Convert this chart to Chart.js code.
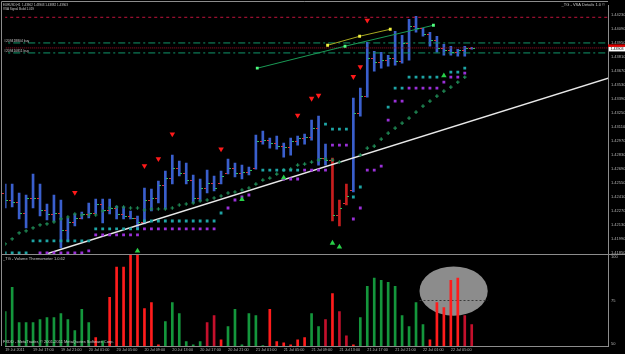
<!DOCTYPE html>
<html>
<head>
<meta charset="utf-8">
<script src="https://cdn.jsdelivr.net/npm/chart.js@4.4.1/dist/chart.umd.min.js"></script>
<style>
  html, body { margin: 0; padding: 0; background: #000; }
  #wrap { width: 625px; height: 354px; }
</style>
</head>
<body>
<div id="wrap"><canvas id="mt4Chart"></canvas></div>
<script>
// EURUSD H1, 19 Jul 13:00 -> 22 Jul 08:00 (one entry per bar)
const tickBars = [0, 4, 8, 12, 16, 20, 24, 28, 32, 36, 40, 44, 48, 52, 56, 60, 64];
const tickLabels = ['19 Jul 2011', '19 Jul 17:00', '19 Jul 21:00', '20 Jul 01:00', '20 Jul 05:00',
  '20 Jul 09:00', '20 Jul 13:00', '20 Jul 17:00', '20 Jul 21:00', '21 Jul 01:00', '21 Jul 05:00',
  '21 Jul 09:00', '21 Jul 13:00', '21 Jul 17:00', '21 Jul 21:00', '22 Jul 01:00', '22 Jul 05:00'];
const priceTicks = [1.41850, 1.41990, 1.42130, 1.42270, 1.42410, 1.42550, 1.42690, 1.42830, 1.42970,
  1.43110, 1.43250, 1.43390, 1.43530, 1.43670, 1.43810, 1.43950, 1.44090, 1.44230];
const volumeTicks = [50, 75, 100];

const opens = [1.4245,1.4238,1.4236,1.4225,1.4240,1.4240,1.4228,1.4224,1.4225,1.4208,
  1.4216,1.4220,1.4224,1.4225,1.4234,1.4228,1.4230,1.4224,1.4222,1.4220,
  1.4216,1.4238,1.4240,1.4253,1.4260,1.4270,1.4265,1.4258,1.4240,1.4250,
  1.4255,1.4255,1.4265,1.4270,1.4265,1.4266,1.4270,1.4297,1.4298,1.4295,
  1.4292,1.4291,1.4297,1.4300,1.4301,1.4310,1.4280,1.4278,1.4223,1.4235,
  1.4248,1.4325,1.4342,1.4380,1.4376,1.4378,1.4380,1.4377,1.4395,1.4412,
  1.4410,1.4404,1.4398,1.4390,1.4388,1.4386,1.4388,1.4390];
const highs = [1.4254,1.4254,1.4245,1.4243,1.4264,1.4254,1.4234,1.4243,1.4238,1.4220,
  1.4224,1.4226,1.4235,1.4239,1.4239,1.4239,1.4232,1.4231,1.4227,1.4222,
  1.4250,1.4249,1.4257,1.4267,1.4283,1.4277,1.4275,1.4263,1.4259,1.4268,
  1.4262,1.4267,1.4279,1.4275,1.4273,1.4271,1.4303,1.4307,1.4300,1.4302,
  1.4295,1.4300,1.4302,1.4304,1.4318,1.4322,1.4294,1.4280,1.4238,1.4254,
  1.4340,1.4350,1.4396,1.4387,1.4386,1.4383,1.4407,1.4403,1.4419,1.4422,
  1.4410,1.4406,1.4402,1.4394,1.4392,1.4389,1.4392,1.4391];
const lows = [1.4230,1.4231,1.4219,1.4210,1.4230,1.4222,1.4218,1.4217,1.4190,1.4197,
  1.4212,1.4219,1.4220,1.4224,1.4215,1.4224,1.4219,1.4219,1.4219,1.4209,
  1.4214,1.4227,1.4235,1.4229,1.4254,1.4262,1.4254,1.4235,1.4237,1.4245,
  1.4247,1.4254,1.4264,1.4261,1.4259,1.4263,1.4269,1.4294,1.4290,1.4289,
  1.4281,1.4283,1.4293,1.4294,1.4298,1.4273,1.4273,1.4217,1.4212,1.4233,
  1.4246,1.4322,1.4341,1.4367,1.4370,1.4372,1.4373,1.4375,1.4378,1.4406,
  1.4402,1.4392,1.4386,1.4383,1.4383,1.4382,1.4382,1.4389];
const closes = [1.4238,1.4236,1.4225,1.4240,1.4240,1.4228,1.4224,1.4225,1.4208,1.4216,
  1.4220,1.4224,1.4225,1.4234,1.4228,1.4230,1.4224,1.4222,1.4220,1.4216,
  1.4238,1.4240,1.4253,1.4260,1.4270,1.4265,1.4258,1.4240,1.4250,1.4255,
  1.4250,1.4262,1.4270,1.4265,1.4266,1.4268,1.4297,1.4298,1.4295,1.4292,
  1.4291,1.4297,1.4300,1.4301,1.4310,1.4280,1.4278,1.4223,1.4230,1.4242,
  1.4325,1.4342,1.4380,1.4376,1.4378,1.4380,1.4377,1.4395,1.4412,1.4410,
  1.4404,1.4398,1.4390,1.4388,1.4386,1.4388,1.4390,1.4390];
const climaxBars = [47, 48, 49];

// VSA band dots
const upperBand = [1.4185,1.4185,1.4185,1.4185,1.4197,1.4197,1.4197,1.4197,1.4197,1.4197,
  1.4197,1.4197,1.4197,1.4209,1.4209,1.4209,1.4209,1.4209,1.4209,1.4209,
  1.4217,1.4217,1.4217,1.4217,1.4217,1.4217,1.4217,1.4217,1.4217,1.4217,
  1.4217,1.4225,null,null,null,null,null,1.4268,1.4268,1.4268,
  1.4268,1.4268,1.4268,null,null,null,1.4314,1.4309,1.4309,1.4309,
  1.4241,1.4251,null,null,null,1.4331,1.4350,1.4350,1.4361,1.4361,
  1.4361,1.4361,1.4361,null,1.4366,1.4366,1.4370,null];
const lowerBand = [null,null,null,null,null,1.4185,1.4185,1.4185,1.4185,1.4185,
  1.4185,1.4185,1.4187,1.4203,1.4203,1.4203,1.4203,1.4203,1.4203,1.4203,
  1.4209,1.4209,1.4209,1.4209,1.4209,1.4209,1.4209,1.4209,1.4209,1.4209,
  1.4209,null,1.4230,1.4238,1.4241,1.4243,null,null,null,null,
  1.4259,1.4259,1.4259,1.4268,1.4268,1.4268,1.4268,1.4293,1.4293,1.4293,
  1.4219,1.4230,1.4268,1.4268,1.4272,1.4318,1.4337,1.4337,1.4350,1.4350,
  1.4350,1.4350,1.4350,1.4356,1.4361,1.4361,1.4365,null];
const trailStop = [1.4194,1.4199,1.4205,1.4207,1.4210,1.4213,1.4214,1.4216,1.4219,1.4221,
  1.4224,1.4223,1.4223,1.4223,1.4227,1.4230,1.4231,1.4231,1.4230,1.4230,
  1.4228,1.4229,1.4229,1.4229,1.4230,1.4233,1.4234,1.4235,1.4237,1.4238,
  1.4240,1.4242,1.4245,1.4246,1.4248,1.4250,1.4254,1.4258,1.4260,1.4264,
  1.4268,1.4269,1.4273,1.4274,1.4276,1.4278,1.4279,1.4278,1.4276,null,
  null,1.4283,1.4290,1.4292,1.4299,1.4305,1.4310,1.4315,1.4320,1.4326,
  1.4332,1.4337,1.4342,1.4347,1.4351,1.4356,1.4361,null];

const sellSignalBars = [10, 20, 22, 24, 31, 42, 44, 45, 50, 51, 52];
const sellSignalPrice = [1.42455, 1.42723, 1.42792, 1.43040, 1.42891, 1.43228, 1.43397, 1.43427, 1.43615, 1.43714, 1.44180];
const buySignalBars = [19, 34, 40, 47, 48, 63];
const buySignalPrice = [1.41870, 1.42386, 1.42604, 1.41949, 1.41910, 1.43625];

// Volume thermometer
const volume = [68.6, 82.5, 62.2, 62.2, 62.2, 64.0, 65.1, 65.1, 67.4, 64.0,
  57.6, 69.8, 62.2, 53.5, 51.7, 76.7, 94.2, 94.2, 101.5, 101.5,
  70.3, 73.8, 49.4, 62.8, 73.8, 67.4, 51.2, 49.4, 51.2, 62.2,
  66.3, 52.3, 59.9, 69.8, 49.4, 67.4, 66.3, 48.9, 69.8, 51.2,
  50.6, 49.4, 52.3, 53.5, 67.4, 59.9, 64.0, 79.0, 68.6, 54.6,
  49.4, 65.1, 83.1, 87.8, 86.6, 85.4, 83.1, 66.3, 59.9, 73.8,
  61.0, 52.3, 73.8, 70.9, 86.6, 87.8, 66.3, 61.0];
const volumeKind = ['up','up','up','up','up','up','up','up','up','up',
  'up','up','up','down','up','down','down','down','down','down',
  'down','down','down','up','up','up','up','up','up','weak',
  'weak','down','up','up','up','up','up','up','down','down',
  'down','down','down','down','up','up','weak','down','weak','weak',
  'down','up','up','up','up','up','up','up','up','up',
  'up','down','down','down','down','down','weak','weak'];

// drawn objects and levels
const resistanceLevel = 1.44210;
const bidPrice = 1.43903;
const orderLevels = [1.43953, 1.43853];
const orderTickets = ['#209418804 buy', '#209410811 buy'];
const whiteTrend = [[5.9, 1.4184], [86.6, 1.4360]];
const yellowTrend = [[46.3, 1.4393], [50.9, 1.4402], [55.3, 1.4409]];
const greenTrend = [[36.2, 1.4370], [48.8, 1.4392], [61.5, 1.4413]];
const thermoZone = { center: 64.4, level: 80.4, halfWidth: 4.9, halfHeight: 14.2 };

const colours = { up: '#14963c', down: '#ff1c1c', weak: '#c4102c' };
const pts = (arr) => arr.map((v, i) => ({ x: i, y: v }));
const levelLine = (v) => [{ x: -1, y: v }, { x: 90, y: v }];

const mt4Overlay = {
  id: 'mt4Overlay',
  beforeDatasetsDraw(chart) {
    const { ctx, scales: { x, yv } } = chart;
    const cx = x.getPixelForValue(thermoZone.center);
    const cy = yv.getPixelForValue(thermoZone.level);
    const rx = x.getPixelForValue(thermoZone.center + thermoZone.halfWidth) - cx;
    const ry = cy - yv.getPixelForValue(thermoZone.level + thermoZone.halfHeight);
    ctx.save();
    ctx.fillStyle = '#8c8c8c';
    ctx.beginPath();
    ctx.ellipse(cx, cy, rx, ry, 0, 0, Math.PI * 2);
    ctx.fill();
    const y75 = Math.round(yv.getPixelForValue(75)) + 0.5;
    ctx.strokeStyle = '#3a3a3a';
    ctx.setLineDash([2, 2]);
    ctx.beginPath();
    ctx.moveTo(cx - rx, y75);
    ctx.lineTo(cx + rx, y75);
    ctx.stroke();
    ctx.restore();
  },
  afterDatasetsDraw(chart) {
    const { ctx, scales: { x, y } } = chart;
    ctx.save();
    for (let i = 0; i < opens.length; i++) {
      const px = Math.round(x.getPixelForValue(i));
      const yo = Math.round(y.getPixelForValue(opens[i]));
      const yc = Math.round(y.getPixelForValue(closes[i]));
      ctx.fillStyle = '#d8303c';
      ctx.fillRect(px - 3, yo, 2, 1);
      ctx.fillStyle = '#2ec060';
      ctx.fillRect(px + 1, yc, 2, 1);
    }
    ctx.restore();
  },
  afterDraw(chart) {
    const { ctx, chartArea: a, scales: { y } } = chart;
    ctx.save();
    ctx.strokeStyle = '#8c8c8c';
    ctx.lineWidth = 1;
    ctx.beginPath();
    ctx.moveTo(1.5, a.bottom); ctx.lineTo(1.5, 1.5); ctx.lineTo(a.right, 1.5);
    ctx.moveTo(1, Math.round(y.bottom) + 0.5); ctx.lineTo(625, Math.round(y.bottom) + 0.5);
    ctx.stroke();

    ctx.fillStyle = '#c8c8c8';
    ctx.textBaseline = 'middle';
    ctx.font = '3px "Liberation Sans"';
    ctx.fillText('EURUSD,H1  1.43902 1.43903 1.43882 1.43903', 3, 4.8);
    ctx.fillText('VSA Signal Build 1.019', 3, 9);
    ctx.font = '4px "Liberation Sans"';
    ctx.textAlign = 'right';
    ctx.fillText('_TG - VSA Details 1.0 \u00a9', 605, 5);
    ctx.textAlign = 'left';
    ctx.fillText('_TG - Volume Thermometer 1.0.62', 3, y.bottom + 4.5);
    ctx.fillText('FXDD - MetaTrader, \u00a9 2001-2011 MetaQuotes Software Corp.', 3, a.bottom - 4);
    ctx.textBaseline = 'bottom';
    ctx.font = '3.4px "Liberation Sans"';
    orderLevels.forEach((lv, k) => {
      ctx.fillText(orderTickets[k], 4, y.getPixelForValue(lv) - 0.5);
    });

    const by = y.getPixelForValue(bidPrice);
    ctx.fillStyle = '#e00000';
    ctx.fillRect(a.right, by - 3.5, 17, 2.5);
    ctx.fillStyle = '#ffffff';
    ctx.fillRect(a.right + 1, by - 1, 16, 4.5);
    ctx.fillStyle = '#000000';
    ctx.textBaseline = 'middle';
    ctx.font = '3.6px "Liberation Sans"';
    ctx.fillText(bidPrice.toFixed(5), a.right + 2.5, by + 1.3);
    ctx.restore();
  }
};

const axisFont = { family: 'Liberation Sans', size: 4 };

new Chart(document.getElementById('mt4Chart'), {
  type: 'bar',
  data: {
    datasets: [
      {
        type: 'line', label: 'sell', showLine: false,
        data: sellSignalBars.map((b, k) => ({ x: b, y: sellSignalPrice[k] })),
        pointStyle: 'triangle', rotation: 180, pointRadius: 3.2,
        pointBackgroundColor: '#ff1a1a', pointBorderColor: '#ff1a1a', pointBorderWidth: 0
      },
      {
        type: 'line', label: 'buy', showLine: false,
        data: buySignalBars.map((b, k) => ({ x: b, y: buySignalPrice[k] })),
        pointStyle: 'triangle', pointRadius: 3.2,
        pointBackgroundColor: '#28d048', pointBorderColor: '#28d048', pointBorderWidth: 0
      },
      {
        type: 'line', label: 'upper band', showLine: false, data: pts(upperBand),
        pointStyle: 'rect', pointRadius: 2, pointBackgroundColor: '#1ea4a4', pointBorderWidth: 0
      },
      {
        type: 'line', label: 'lower band', showLine: false, data: pts(lowerBand),
        pointStyle: 'rect', pointRadius: 2, pointBackgroundColor: '#9a30d8', pointBorderWidth: 0
      },
      {
        type: 'line', label: 'trail', showLine: false, data: pts(trailStop),
        pointStyle: 'cross', pointRadius: 1.8, pointBorderColor: '#1f8a55', pointBorderWidth: 1.2
      },
      {
        type: 'line', label: 'yellow trend', data: yellowTrend.map(([b, p]) => ({ x: b, y: p })),
        borderColor: '#a8a820', borderWidth: 1, pointStyle: 'rect', pointRadius: 2,
        pointBackgroundColor: '#f0f040', pointBorderWidth: 0
      },
      {
        type: 'line', label: 'green trend', data: greenTrend.map(([b, p]) => ({ x: b, y: p })),
        borderColor: '#1a9a55', borderWidth: 1, pointStyle: 'rect', pointRadius: 2,
        pointBackgroundColor: '#50ff80', pointBorderWidth: 0
      },
      {
        type: 'line', label: 'white trend', data: whiteTrend.map(([b, p]) => ({ x: b, y: p })),
        borderColor: '#e8e8e8', borderWidth: 1.6, pointRadius: 0
      },
      {
        type: 'line', label: 'resistance', data: levelLine(resistanceLevel),
        borderColor: '#c0143c', borderWidth: 1, borderDash: [3, 3], pointRadius: 0
      },
      {
        type: 'line', label: 'order 1', data: levelLine(orderLevels[0]),
        borderColor: '#11966a', borderWidth: 1, borderDash: [7, 3, 2, 3], pointRadius: 0
      },
      {
        type: 'line', label: 'order 2', data: levelLine(orderLevels[1]),
        borderColor: '#11966a', borderWidth: 1, borderDash: [7, 3, 2, 3], pointRadius: 0
      },
      {
        type: 'line', label: 'bid', data: levelLine(bidPrice),
        borderColor: '#a01028', borderWidth: 1, borderDash: [1, 1], pointRadius: 0
      },
      {
        type: 'bar', label: 'EURUSD', yAxisID: 'y', grouped: false, barThickness: 2,
        data: highs.map((h, i) => ({ x: i, y: [lows[i], h] })),
        backgroundColor: (c) => climaxBars.includes(c.dataIndex) ? '#c81e1e' : '#3a5fcd'
      },
      {
        type: 'bar', label: 'volume', yAxisID: 'yv', grouped: false, barThickness: 2, base: 48.7,
        data: pts(volume),
        backgroundColor: (c) => colours[volumeKind[c.dataIndex]]
      }
    ]
  },
  options: {
    responsive: true,
    maintainAspectRatio: false,
    animation: false,
    devicePixelRatio: 1,
    layout: { padding: { top: 2, left: 2, right: 0, bottom: 0 } },
    plugins: { legend: { display: false }, tooltip: { enabled: false } },
    scales: {
      x: {
        type: 'linear', min: 0, max: 606 / 7, offset: false,
        grid: { display: false, drawTicks: false },
        border: { color: '#8c8c8c' },
        afterBuildTicks: (s) => { s.ticks = tickBars.map((b) => ({ value: b })); },
        afterFit: (s) => { s.height = 8; },
        ticks: {
          align: 'start', maxRotation: 0, autoSkip: false, padding: 1.5,
          color: '#b4b4b4', font: { family: 'Liberation Sans', size: 3.8 },
          callback: (v, k) => tickLabels[k]
        }
      },
      y: {
        type: 'linear', position: 'right', stack: 'panes', stackWeight: 251,
        min: 1.41840, max: 1.44329,
        grid: { display: false, drawTicks: false },
        border: { color: '#8c8c8c' },
        afterBuildTicks: (s) => { s.ticks = priceTicks.map((v) => ({ value: v })); },
        afterFit: (s) => { s.width = 17; },
        ticks: { autoSkip: false, padding: 3, color: '#b4b4b4', font: axisFont, callback: (v) => v.toFixed(5) }
      },
      yv: {
        type: 'linear', position: 'right', stack: 'panes', stackWeight: 93,
        min: 48.7, max: 101.8,
        grid: { display: false, drawTicks: false },
        border: { color: '#8c8c8c' },
        afterBuildTicks: (s) => { s.ticks = volumeTicks.map((v) => ({ value: v })); },
        afterFit: (s) => { s.width = 17; },
        ticks: { autoSkip: false, padding: 3, color: '#b4b4b4', font: axisFont }
      }
    }
  },
  plugins: [mt4Overlay]
});
</script>
</body>
</html>
